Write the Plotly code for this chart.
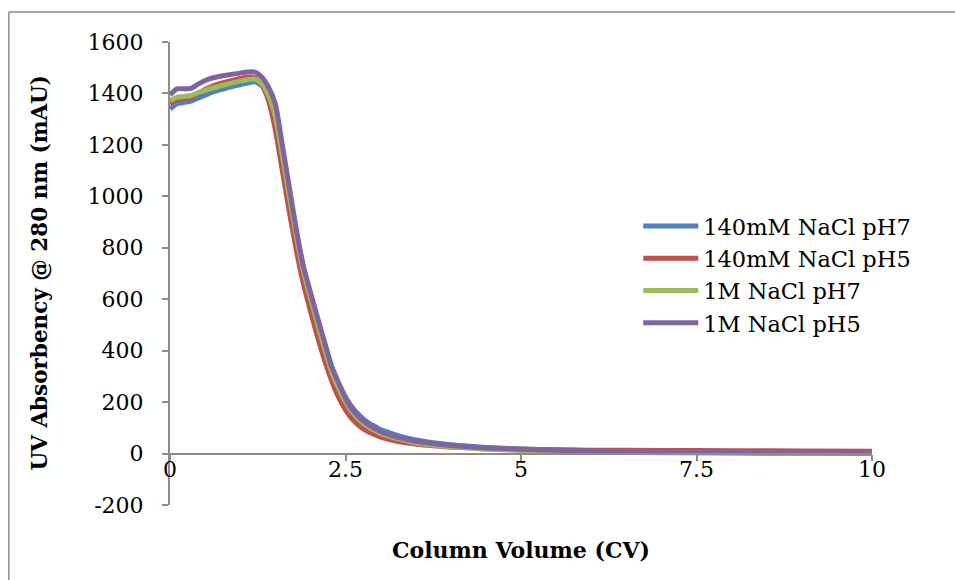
import plotly.graph_objects as go

cv = [0, 0.1, 0.2, 0.3, 0.4, 0.5, 0.6, 0.7, 0.8, 0.9, 1.0, 1.1, 1.2, 1.3, 1.4, 1.5,
      1.6, 1.7, 1.8, 1.9, 2.0, 2.1, 2.2, 2.3, 2.4, 2.5, 2.6, 2.7, 2.8, 2.9, 3.0,
      3.25, 3.5, 3.75, 4.0, 4.5, 5.0, 5.5, 6.0, 7.0, 8.0, 9.0, 10.0]

nacl140_ph7 = [1340, 1360, 1365, 1370, 1382, 1393, 1405, 1413, 1421, 1428, 1434, 1440, 1445, 1432, 1392, 1315,
               1170, 1015, 860, 725, 620, 522, 428, 340, 275, 220, 178, 148, 125, 108, 93,
               70, 53, 42, 34, 24, 18, 14, 11, 7, 5, 4, 3]
nacl140_ph5 = [1360, 1378, 1380, 1385, 1400, 1415, 1428, 1437, 1445, 1452, 1458, 1463, 1462, 1435, 1375, 1260,
               1100, 940, 790, 660, 555, 455, 365, 285, 220, 170, 133, 107, 88, 75, 64,
               47, 37, 30, 25, 20, 17, 15, 13, 12, 11, 10, 9]
nacl1m_ph7 = [1372, 1385, 1388, 1392, 1403, 1412, 1420, 1428, 1435, 1442, 1448, 1453, 1456, 1440, 1395, 1310,
              1160, 1000, 845, 710, 605, 505, 410, 320, 255, 200, 160, 130, 108, 92, 78,
              57, 42, 33, 26, 17, 12, 8, 6, 3, 1, 0, 0]
nacl1m_ph5 = [1395, 1418, 1418, 1420, 1436, 1450, 1460, 1466, 1471, 1475, 1479, 1483, 1484, 1466, 1426, 1360,
              1200, 1035, 870, 728, 628, 530, 435, 340, 275, 215, 170, 140, 117, 100, 85,
              63, 48, 39, 31, 22, 17, 13, 10, 6, 4, 3, 2]

series_names = ["140mM NaCl pH7", "140mM NaCl pH5", "1M NaCl pH7", "1M NaCl pH5"]
series_values = [nacl140_ph7, nacl140_ph5, nacl1m_ph7, nacl1m_ph5]
colors = ["#4F81BD", "#C0504D", "#9BBB59", "#8064A2"]

x_ticks = [0, 2.5, 5, 7.5, 10]
x_tick_labels = ["0", "2.5", "5", "7.5", "10"]
y_ticks = [-200, 0, 200, 400, 600, 800, 1000, 1200, 1400, 1600]
y_tick_labels = ["-200", "0", "200", "400", "600", "800", "1000", "1200", "1400", "1600"]

FONT = "DejaVu Serif"
BORDER = "#8c8c8c"

fig = go.Figure()
for name, vals, col in zip(series_names, series_values, colors):
    fig.add_trace(go.Scatter(x=cv, y=vals, mode="lines", name=name,
                             line=dict(color=col, width=5, shape="spline", smoothing=0.6)))

fig.update_layout(
    width=955, height=580,
    margin=dict(l=170, r=83, t=42, b=75),
    paper_bgcolor="white", plot_bgcolor="white",
    font=dict(family=FONT, size=22, color="black"),
    showlegend=True,
    legend=dict(x=0.667, y=0.648, xanchor="left", yanchor="top",
                font=dict(family=FONT, size=22.5, color="black"),
                itemwidth=55, bgcolor="rgba(0,0,0,0)", tracegroupgap=0),
    xaxis=dict(range=[0, 10], tickvals=x_ticks, ticktext=x_tick_labels,
               anchor="free", position=200 / 1800,
               showline=True, linecolor=BORDER, linewidth=2,
               ticks="outside", ticklen=6, tickcolor=BORDER, tickwidth=2,
               showgrid=False, zeroline=False, ticklabelstandoff=-10,
               tickfont=dict(family=FONT, size=22, color="black")),
    yaxis=dict(range=[-200, 1600], tickvals=y_ticks, ticktext=y_tick_labels,
               showline=True, linecolor=BORDER, linewidth=2,
               ticks="outside", ticklen=6, tickcolor=BORDER, tickwidth=2,
               showgrid=False, zeroline=False, ticklabelstandoff=14,
               tickfont=dict(family=FONT, size=22, color="black")),
    annotations=[
        dict(text="<b>Column Volume (CV)</b>", xref="paper", yref="paper",
             x=0.5, y=-0.097, xanchor="center", yanchor="middle", showarrow=False,
             font=dict(family=FONT, size=22, color="black")),
        dict(text="<b>UV Absorbency @ 280 nm (mAU)</b>", xref="paper", yref="paper",
             x=-0.186, y=0.503, xanchor="center", yanchor="middle", showarrow=False,
             textangle=-90, font=dict(family=FONT, size=21.5, color="black")),
    ],
    shapes=[
        dict(type="line", xref="paper", yref="paper",
             x0=-0.2295, y0=-0.5, x1=-0.2295, y1=1.0648,
             line=dict(color=BORDER, width=1.5), layer="below"),
        dict(type="line", xref="paper", yref="paper",
             x0=-0.2295, y0=1.0648, x1=1.5, y1=1.0648,
             line=dict(color=BORDER, width=1.5), layer="below"),
    ],
)

fig.write_html(
    "out.html",
    config={"displayModeBar": False},
    post_script="document.body.style.margin='0';document.body.style.overflow='hidden';",
)
